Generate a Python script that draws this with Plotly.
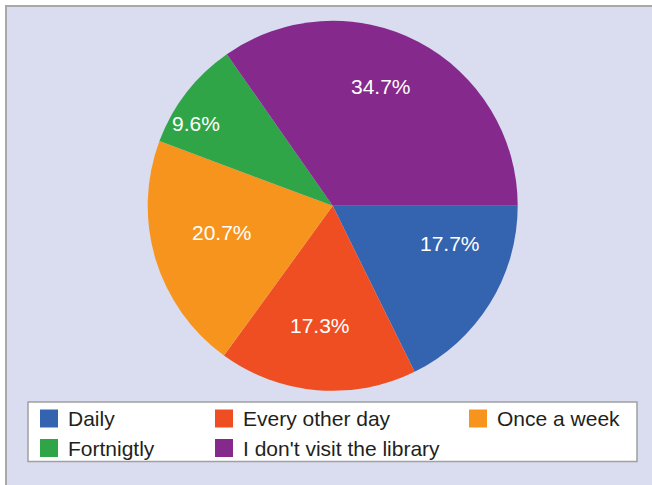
import math
import plotly.graph_objects as go

categories = ["Daily", "Every other day", "Once a week", "Fortnigtly", "I don't visit the library"]
values = [17.7, 17.3, 20.7, 9.6, 34.7]
colors = ["#3464B0", "#EF4E23", "#F7941E", "#2FA548", "#85298D"]

W, H = 652, 485
def px(x):
    return x / W
def py(y):
    return 1 - y / H

# pie geometry (pixels)
CX, CY, R = 332.7, 205.85, 185.0
# label placement tweaks: (angle shift from slice mid-angle in degrees, radius fraction)
label_layout = [(-13.9, 0.665), (1.1, 0.652), (3.0, 0.617), (-6.9, 0.863), (-5.3, 0.696)]

fig = go.Figure()
fig.add_trace(go.Pie(
    labels=categories,
    values=values,
    sort=False,
    direction="clockwise",
    rotation=90,
    marker=dict(colors=colors, line=dict(width=0)),
    textinfo="none",
    domain=dict(x=[px(CX - R), px(CX + R)], y=[py(CY + R), py(CY - R)]),
    showlegend=False,
    hoverinfo="label+percent",
))

shapes = []
# panel background with gray top/left border
shapes.append(dict(type="rect", xref="paper", yref="paper", layer="below",
                   x0=px(6), x1=1.05, y0=-0.05, y1=py(6),
                   fillcolor="#DADDF0", line=dict(width=0)))
shapes.append(dict(type="line", xref="paper", yref="paper", layer="below",
                   x0=px(5), x1=1.05, y0=py(6), y1=py(6),
                   line=dict(color="#A8A8A8", width=2)))
shapes.append(dict(type="line", xref="paper", yref="paper", layer="below",
                   x0=px(6), x1=px(6), y0=-0.05, y1=py(5),
                   line=dict(color="#A8A8A8", width=2)))
# legend box
shapes.append(dict(type="rect", xref="paper", yref="paper",
                   x0=px(28), x1=px(637), y0=py(461.5), y1=py(402),
                   fillcolor="white", line=dict(color="#A0A0A0", width=1.5)))

annotations = []

# percentage labels, computed from the values
total = sum(values)
cum = 0.0
for v, (dang, rf) in zip(values, label_layout):
    mid = (cum + v / 2) / total * 360.0  # clockwise from 3 o'clock
    cum += v
    a = math.radians(mid + dang)
    x = CX + rf * R * math.cos(a)
    y = CY + rf * R * math.sin(a)
    annotations.append(dict(xref="paper", yref="paper", x=px(x), y=py(y),
                            xanchor="center", yanchor="middle", showarrow=False,
                            text=f"{v / total * 100:.1f}%",
                            font=dict(family="Liberation Sans, Arial, sans-serif",
                                      size=21, color="white")))

# legend entries
col_x = [40, 215, 469]
row_y = [418.5, 448]
for i, (name, col) in enumerate(zip(categories, colors)):
    r, c = divmod(i, 3)
    x0 = col_x[c]
    yc = row_y[r]
    shapes.append(dict(type="rect", xref="paper", yref="paper",
                       x0=px(x0), x1=px(x0 + 18), y0=py(yc + 9), y1=py(yc - 9),
                       fillcolor=col, line=dict(width=0)))
    annotations.append(dict(xref="paper", yref="paper", x=px(x0 + 26), y=py(yc),
                            xanchor="left", yanchor="middle", showarrow=False,
                            text=name,
                            font=dict(family="Liberation Sans, Arial, sans-serif",
                                      size=21, color="#231F20")))

fig.update_layout(
    width=W, height=H,
    margin=dict(l=0, r=0, t=0, b=0),
    paper_bgcolor="white",
    plot_bgcolor="white",
    shapes=shapes,
    annotations=annotations,
)

fig.write_html("out.html")
